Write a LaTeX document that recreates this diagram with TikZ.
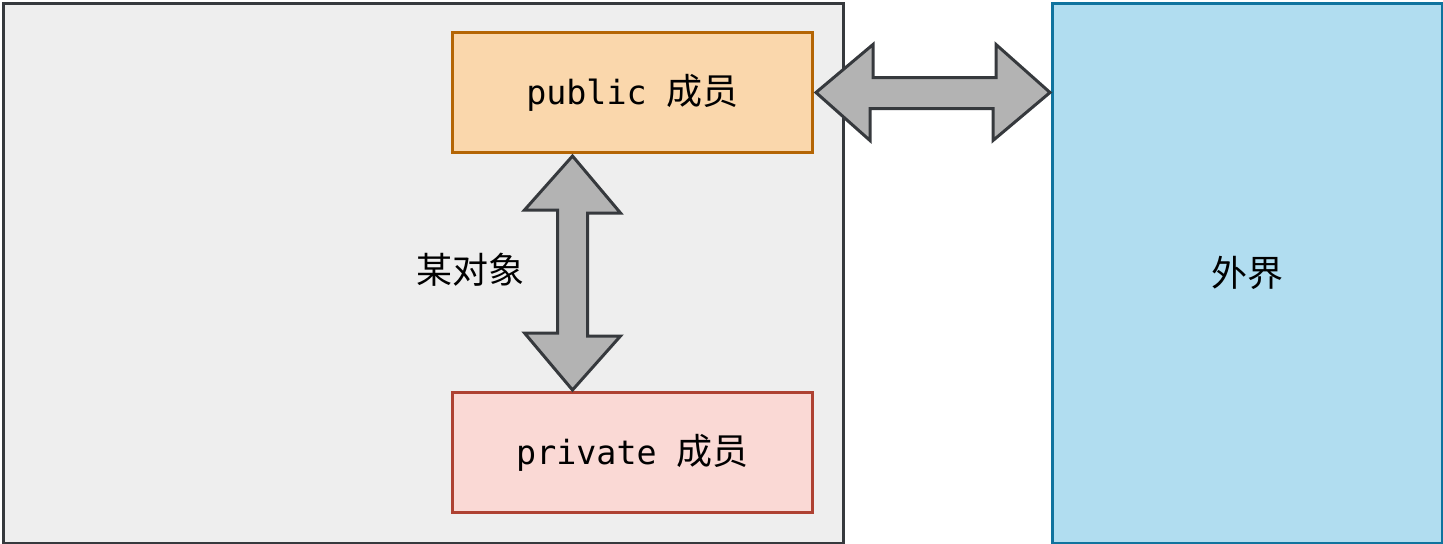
\documentclass[tikz,border=0pt]{standalone}
\usepackage{fontspec}
\setmonofont{DejaVu Sans Mono}
\newfontfamily\cjk{Noto Sans CJK SC}
\usetikzlibrary{calc}
\definecolor{dk}{HTML}{36393D}
\definecolor{grayfill}{HTML}{EEEEEE}
\definecolor{pubfill}{HTML}{FAD7AC}
\definecolor{publine}{HTML}{B46504}
\definecolor{privfill}{HTML}{FAD9D5}
\definecolor{privline}{HTML}{AE4132}
\definecolor{extfill}{HTML}{B1DDF0}
\definecolor{extline}{HTML}{10739E}
\definecolor{arrfill}{HTML}{B3B3B3}
\newcommand{\cj}[1]{{\fontsize{27}{30}\selectfont\cjk #1}}
\tikzset{
  box/.style={draw, line width=2.25pt, inner sep=0pt, anchor=north west, font=\fontsize{25}{30}\selectfont},
  bigarrow/.style={draw=dk, fill=arrfill, line width=2.25pt, line join=miter},
}
\begin{document}
\begin{tikzpicture}[x=0.75pt, y=-0.75pt]
\useasboundingbox (0,0) rectangle (1443,543);
\node[box, draw=dk, fill=grayfill, minimum width=840*0.75pt, minimum height=540*0.75pt] (obj) at (1.5,1.5) {};
\node[box, draw=publine, fill=pubfill, minimum width=360*0.75pt, minimum height=120*0.75pt] (pub) at (451,31) {\ttfamily public \cj{成员}};
\node[box, draw=privline, fill=privfill, minimum width=360*0.75pt, minimum height=120*0.75pt] (priv) at (451,391) {\ttfamily private \cj{成员}};
\node[box, draw=extline, fill=extfill, minimum width=390*0.75pt, minimum height=540*0.75pt] (ext) at (1051,1.5) {\cj{外界}};
\node[inner sep=0pt] (lbl) at (470,270) {\cj{某对象}};
\coordinate (extin) at (ext.west |- pub.east);
% horizontal double arrow between pub and ext
\draw[bigarrow] ($(pub.east)+(2,0)$) -- ++(57,-48) -- ++(0,33) -- ++(123,0) -- ++(0,-33)
  -- ($(extin)+(-1,0)$) -- ++(-57,48) -- ++(0,-32) -- ++(-123,0) -- ++(0,32) -- cycle;
% vertical double arrow between pub and priv
\draw[bigarrow] ($(pub.south)+(-60,2)$) -- ++(48,57) -- ++(-33,0) -- ++(0,123) -- ++(33,0)
  -- ($(priv.north)+(-60,-1)$) -- ++(-48,-57) -- ++(33,0) -- ++(0,-123) -- ++(-33,0) -- cycle;
\end{tikzpicture}
\end{document}
